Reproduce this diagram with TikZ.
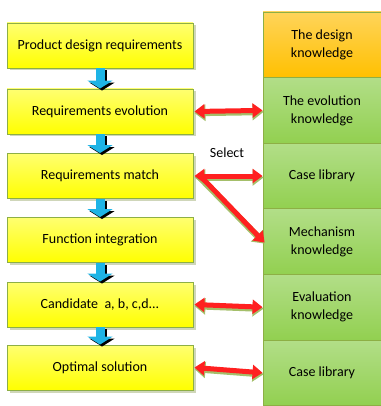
\documentclass[tikz,border=0pt]{standalone}
\usepackage{fontspec}
\setmainfont{Carlito}
\usetikzlibrary{arrows.meta,shadows}
\definecolor{edge}{HTML}{8DAF45}
\definecolor{shade}{HTML}{C3CCA8}
\definecolor{yeltop}{HTML}{FFFF70}
\definecolor{yelbot}{HTML}{FFFF00}
\definecolor{grntop}{HTML}{B2DE88}
\definecolor{grnbot}{HTML}{92D050}
\definecolor{orgtop}{HTML}{FFD45A}
\definecolor{orgbot}{HTML}{FFC000}
\definecolor{flowblue}{HTML}{1EB4E6}
\definecolor{linkred}{HTML}{FF2020}
\begin{document}
\begin{tikzpicture}[x=1pt,y=-1pt,
  every node/.style={font=\fontsize{14}{18}\selectfont, align=center, inner sep=0pt},
  stepbox/.style={draw=edge, line width=0.9pt, minimum width=186pt, minimum height=45pt,
    top color=yeltop, bottom color=yelbot,
    drop shadow={shadow xshift=2.5pt, shadow yshift=-2.5pt, fill=shade, opacity=.8}},
  knowbox/.style={draw=edge, line width=0.9pt, minimum width=118pt, minimum height=65.6pt,
    top color=grntop, bottom color=grnbot},
  flow/.style={flowblue, line width=9pt, -{Triangle[width=25pt,length=8pt]}},
  flowshadow/.style={shade, line width=9pt, -{Triangle[width=25pt,length=8pt]}},
  link/.style={linkred, line width=5pt, {Triangle[width=14pt,length=10pt]}-{Triangle[width=14pt,length=10pt]}},
  linkshadow/.style={edge!80, line width=6.5pt, {Triangle[width=16pt,length=11pt]}-{Triangle[width=16pt,length=11pt]}},
  onelink/.style={linkred, line width=5pt, -{Triangle[width=14pt,length=10pt]}},
  onelinkshadow/.style={edge!80, line width=6.5pt, -{Triangle[width=16pt,length=11pt]}}]
\useasboundingbox (0,0) rectangle (380,406);

% knowledge column
\node[knowbox, top color=orgtop, bottom color=orgbot] (r1) at (322,44.8) {The design\\knowledge};
\node[knowbox] (r2) at (322,110.4) {The evolution\\knowledge};
\node[knowbox] (r3) at (322,176) {Case library};
\node[knowbox] (r4) at (322,241.6) {Mechanism\\knowledge};
\node[knowbox] (r5) at (322,307.2) {Evaluation\\knowledge};
\node[knowbox] (r6) at (322,372.8) {Case library};

% design flow
\node[stepbox] (b1) at (100,45.5) {Product design requirements};
\node[stepbox] (b2) at (100,111.5) {Requirements evolution};
\node[stepbox] (b3) at (100,176) {Requirements match};
\node[stepbox] (b4) at (100,240) {Function integration};
\node[stepbox] (b5) at (100,304.5) {Candidate\ \ a, b, c,d...};
\node[stepbox] (b6) at (100,367.5) {Optimal solution};

\node (sel) at (227,153) {Select};

% downward flow arrows
\foreach \a/\b in {b1/b2,b2/b3,b3/b4,b4/b5,b5/b6}{
  \draw[flowshadow] ([shift={(2pt,-2pt)}]\a.south) -- ([shift={(2pt,-2pt)}]\b.north);
  \draw[flow] (\a.south) -- (\b.north);
}

% knowledge links
\draw[onelinkshadow] ([shift={(7pt,-2pt)}]b3.east) -- ([shift={(2pt,-2pt)}]r4.west);
\foreach \a/\b in {b2/r2,b3/r3,b5/r5,b6/r6}{
  \draw[linkshadow] ([shift={(1pt,-1.5pt)}]\a.east) -- ([shift={(1pt,-1.5pt)}]\b.west);
  \draw[link] ([xshift=1pt]\a.east) -- (\b.west);
}
\draw[onelink] ([shift={(6pt,1pt)}]b3.east) -- ([shift={(2pt,-1pt)}]r4.west);
\end{tikzpicture}
\end{document}
